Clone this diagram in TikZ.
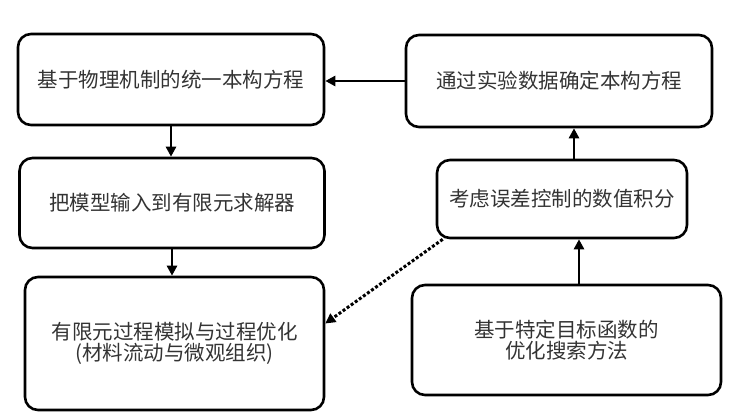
\documentclass[tikz,border=0pt]{standalone}
\usepackage{fontspec}
\setmainfont{Noto Sans CJK SC}
\usetikzlibrary{arrows.meta}

\begin{document}
\begin{tikzpicture}[x=1pt, y=-1pt, >={Triangle[length=10pt, width=10pt]},
      font=\fontsize{20.5}{21}\selectfont,
      box/.style={draw, line width=2.6pt, rounded corners=13pt, align=center,
                  text=black!80, inner sep=0pt},
      arr/.style={->, line width=2.6pt},
      dots/.style={->, dotted, line width=3pt}
    ]
    \useasboundingbox (0,0) rectangle (738,419);

    % left column
    \node[box, minimum width=306pt, minimum height=91pt] (phys) at (171,79.5)
      {基于物理机制的统一本构方程};
    \node[box, minimum width=305pt, minimum height=90pt] (solver) at (172,203)
      {把模型输入到有限元求解器};
    \node[box, minimum width=299pt, minimum height=133pt] (fesim) at (174.5,343.5)
      {有限元过程模拟与过程优化\\(材料流动与微观组织)};

    % right column
    \node[box, minimum width=306pt, minimum height=92pt] (expt) at (559,81)
      {通过实验数据确定本构方程};
    \node[box, minimum width=250pt, minimum height=78pt] (integ) at (562,199)
      {考虑误差控制的数值积分};
    \node[box, minimum width=309pt, minimum height=110pt] (search) at (566.5,340)
      {基于特定目标函数的\\优化搜索方法};

    \draw[arr] (expt.west) -- (expt.west -| phys.east);
    \draw[arr] (phys.south) -- (phys.south |- solver.north);
    \draw[arr] (solver.south) -- (solver.south |- fesim.north);
    \draw[arr] ([xshift=12pt]integ.north) -- ([xshift=12pt]integ.north |- expt.south);
    \draw[arr] ([xshift=12.5pt]search.north) -- ([xshift=12.5pt]search.north |- integ.south);
    \draw[dots] ([xshift=7pt]integ.south west) -- ([yshift=20pt]fesim.east);
  \end{tikzpicture}
\end{document}
